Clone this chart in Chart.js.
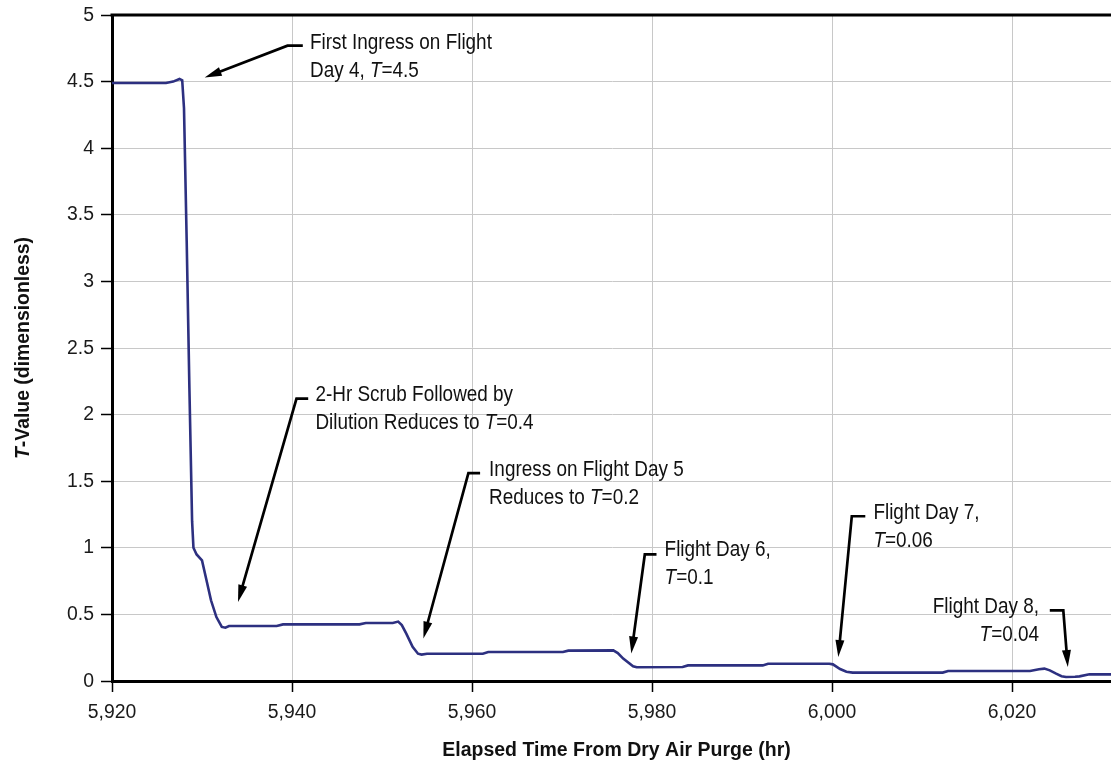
<!DOCTYPE html>
<html>
<head>
<meta charset="utf-8">
<script src="https://cdn.jsdelivr.net/npm/chart.js@4"></script>
<style>
  html, body { margin: 0; padding: 0; background: #fff; overflow: hidden; }
  #wrap { width: 1111px; height: 778px; position: relative; }
</style>
</head>
<body>
<div id="wrap"><canvas id="myChart"></canvas></div>
<script>
const FONT = '"Liberation Sans", Arial, sans-serif';

// elapsed time (hr) and T-value
const hours = [
  5920, 5926.0, 5926.8, 5927.5, 5927.8, 5928.0, 5928.3, 5928.6, 5928.9, 5929.05,
  5929.4, 5930.0, 5930.5, 5931.0, 5931.6, 5932.2, 5932.6, 5933.0, 5938.3, 5939.0,
  5947.5, 5948.2, 5951.2, 5951.8, 5952.2, 5952.7, 5953.4, 5954.0, 5954.4, 5955.0,
  5961.2, 5961.8, 5970.1, 5970.7, 5975.7, 5976.2, 5976.8, 5977.9, 5978.3, 5983.4,
  5984.0, 5992.3, 5992.9, 5999.7, 6000.1, 6000.9, 6001.6, 6002.3, 6012.3, 6012.9,
  6022.0, 6023.0, 6023.6, 6024.2, 6024.9, 6025.5, 6026.0, 6027.0, 6027.5, 6028.6,
  6031
];
const tValues = [
  4.49, 4.49, 4.50, 4.52, 4.51, 4.30, 3.30, 2.20, 1.20, 1.00,
  0.95, 0.905, 0.757, 0.606, 0.48, 0.406, 0.40, 0.413, 0.413, 0.425,
  0.425, 0.435, 0.435, 0.446, 0.42, 0.356, 0.256, 0.205, 0.198, 0.205,
  0.205, 0.218, 0.218, 0.228, 0.23, 0.21, 0.168, 0.11, 0.103, 0.105,
  0.117, 0.117, 0.13, 0.13, 0.125, 0.09, 0.07, 0.063, 0.063, 0.075,
  0.075, 0.088, 0.093, 0.08, 0.055, 0.036, 0.03, 0.032, 0.035, 0.05,
  0.05
];

const xMin = 5920, xMax = 6031, xStep = 20;
const yMin = 0, yMax = 5, yStep = 0.5;

// callouts: text lines (pieces: [text, italic]), text anchor, bracket start, elbow, arrow tip
const notes = [
  { lines: [[["First Ingress on Flight", false]], [["Day 4, ", false], ["T", true], ["=4.5", false]]],
    text: [5942.0, 4.79], start: [5941.2, 4.77], elbow: [5939.5, 4.77], tip: [5930.3, 4.53], align: "left" },
  { lines: [[["2-Hr Scrub Followed by", false]], [["Dilution Reduces to ", false], ["T", true], ["=0.4", false]]],
    text: [5942.6, 2.146], start: [5941.8, 2.12], elbow: [5940.5, 2.12], tip: [5934.0, 0.594], align: "left" },
  { lines: [[["Ingress on Flight Day 5", false]], [["Reduces to ", false], ["T", true], ["=0.2", false]]],
    text: [5961.9, 1.588], start: [5960.9, 1.56], elbow: [5959.6, 1.56], tip: [5954.6, 0.319], align: "left" },
  { lines: [[["Flight Day 6,", false]], [["T", true], ["=0.1", false]]],
    text: [5981.4, 0.982], start: [5980.5, 0.95], elbow: [5979.2, 0.95], tip: [5977.7, 0.206], align: "left" },
  { lines: [[["Flight Day 7,", false]], [["T", true], ["=0.06", false]]],
    text: [6004.6, 1.265], start: [6003.7, 1.237], elbow: [6002.2, 1.237], tip: [6000.7, 0.18], align: "left" },
  { lines: [[["Flight Day 8,", false]], [["T", true], ["=0.04", false]]],
    text: [6023.0, 0.556], start: [6024.2, 0.53], elbow: [6025.7, 0.53], tip: [6026.2, 0.105], align: "right" },
];

function pieceFont(italic, bold, size) {
  return (italic ? "italic " : "") + (bold ? "bold " : "") + size + "px " + FONT;
}

// draws mixed roman/italic text, squeezed horizontally by sx to look condensed
function drawPieces(ctx, pieces, x, y, align, bold, size, sx) {
  let total = 0;
  pieces.forEach(p => { ctx.font = pieceFont(p[1], bold, size); total += ctx.measureText(p[0]).width; });
  let cx = align === "right" ? -total : (align === "center" ? -total / 2 : 0);
  ctx.save();
  ctx.translate(x, y);
  ctx.scale(sx, 1);
  ctx.textAlign = "left";
  pieces.forEach(p => {
    ctx.font = pieceFont(p[1], bold, size);
    ctx.fillText(p[0], cx, 0);
    cx += ctx.measureText(p[0]).width;
  });
  ctx.restore();
}

const callouts = {
  id: "callouts",
  afterDraw(chart) {
    const ctx = chart.ctx, xs = chart.scales.x, ys = chart.scales.y, area = chart.chartArea;
    const px = v => xs.getPixelForValue(v), py = v => ys.getPixelForValue(v);
    ctx.save();
    // top frame line
    ctx.strokeStyle = "#000";
    ctx.lineWidth = 3;
    ctx.beginPath();
    ctx.moveTo(area.left - 1.5, area.top);
    ctx.lineTo(area.right, area.top);
    ctx.stroke();

    // tick labels from the scales' own ticks
    ctx.fillStyle = "#1a1a1a";
    ctx.textBaseline = "middle";
    ys.ticks.forEach(t => {
      drawPieces(ctx, [[String(t.value), false]], area.left - 18, ys.getPixelForValue(t.value), "right", false, 20, 0.97);
    });
    xs.ticks.forEach(t => {
      drawPieces(ctx, [[t.value.toLocaleString("en-US"), false]], xs.getPixelForValue(t.value), area.bottom + 31, "center", false, 20, 0.97);
    });

    notes.forEach(n => {
      const tx = px(n.text[0]), ty = py(n.text[1]);
      ctx.fillStyle = "#111";
      n.lines.forEach((ln, i) => drawPieces(ctx, ln, tx, ty + i * 28, n.align, false, 22, 0.86));
      const sx = px(n.start[0]), sy = py(n.start[1]);
      const ex = px(n.elbow[0]), ey = py(n.elbow[1]);
      const hx = px(n.tip[0]), hy = py(n.tip[1]);
      const ang = Math.atan2(hy - ey, hx - ex);
      const len = 17, half = 4.5;
      const bx = hx - Math.cos(ang) * len, by = hy - Math.sin(ang) * len;
      ctx.strokeStyle = "#000";
      ctx.lineWidth = 2.7;
      ctx.lineJoin = "miter";
      ctx.beginPath();
      ctx.moveTo(sx, sy);
      ctx.lineTo(ex, ey);
      ctx.lineTo(bx + Math.cos(ang) * 3, by + Math.sin(ang) * 3);
      ctx.stroke();
      ctx.fillStyle = "#000";
      ctx.beginPath();
      ctx.moveTo(hx, hy);
      ctx.lineTo(bx + Math.sin(ang) * half, by - Math.cos(ang) * half);
      ctx.lineTo(bx - Math.sin(ang) * half, by + Math.cos(ang) * half);
      ctx.closePath();
      ctx.fill();
    });

    // axis titles
    ctx.fillStyle = "#111";
    drawPieces(ctx, [["Elapsed Time From Dry Air Purge (hr)", false]], (area.left + area.right) / 2 + 5, 750, "center", true, 20, 0.975);
    ctx.translate(23, (area.top + area.bottom) / 2);
    ctx.rotate(-Math.PI / 2);
    drawPieces(ctx, [["T", true], ["-Value (dimensionless)", false]], 0, 0, "center", true, 20, 0.97);
    ctx.restore();
  }
};

new Chart("myChart", {
  type: "line",
  data: {
    datasets: [
      {
        label: "T-Value",
        data: hours.map((h, i) => ({ x: h, y: tValues[i] })),
        borderColor: "#2d3080",
        borderWidth: 2.6,
        pointRadius: 0,
        tension: 0,
        fill: false,
      },
    ],
  },
  options: {
    responsive: true,
    maintainAspectRatio: false,
    animation: false,
    events: [],
    layout: { padding: { top: 15, right: 0, left: 0, bottom: 0 } },
    plugins: { legend: { display: false }, tooltip: { enabled: false } },
    scales: {
      x: {
        type: "linear",
        min: xMin,
        max: xMax,
        afterFit: s => { s.height = 97; },
        ticks: { stepSize: xStep, includeBounds: false, display: false },
        grid: {
          color: "#c8c8c8",
          lineWidth: 1,
          tickLength: 11,
          tickColor: "#000",
          tickWidth: 1.5,
        },
        border: { color: "#000", width: 3 },
      },
      y: {
        min: yMin,
        max: yMax,
        afterFit: s => { s.width = 112; },
        ticks: { stepSize: yStep, display: false },
        grid: {
          color: ctx => (ctx.tick && ctx.tick.value === yMax ? "rgba(0,0,0,0)" : "#c8c8c8"),
          lineWidth: 1,
          tickLength: 11,
          tickColor: "#000",
          tickWidth: 1.5,
        },
        border: { color: "#000", width: 3 },
      },
    },
  },
  plugins: [callouts],
});
</script>
</body>
</html>
